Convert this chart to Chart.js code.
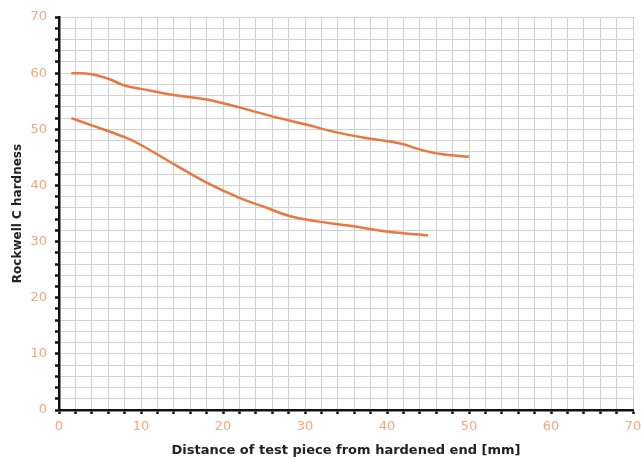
<!DOCTYPE html>
<html>
<head>
<meta charset="utf-8">
<script src="https://cdn.jsdelivr.net/npm/chart.js@4"></script>
<style>
html,body{margin:0;padding:0;background:#fff;}
#wrap{width:641px;height:459px;}
</style>
</head>
<body>
<div id="wrap"><canvas id="c" width="641" height="459"></canvas></div>
<script>
const upperX = [1.5, 4, 6, 8, 10, 14, 18, 22, 26, 30, 34, 38, 41.5, 44.5, 47, 50];
const upperY = [60, 59.8, 59, 57.8, 57.2, 56.1, 55.3, 53.9, 52.3, 50.9, 49.4, 48.3, 47.5, 46.2, 45.5, 45.1];
const lowerX = [1.5, 4, 8, 10, 14, 18, 22, 25, 28, 31.5, 35.5, 39.5, 42, 45];
const lowerY = [52, 50.7, 48.6, 47.2, 43.8, 40.5, 37.8, 36.2, 34.6, 33.6, 32.8, 31.9, 31.5, 31.1];
const xTicks = [0, 10, 20, 30, 40, 50, 60, 70];
const yTicks = [0, 10, 20, 30, 40, 50, 60, 70];
const xTitle = 'Distance of test piece from hardened end [mm]';
const yTitle = 'Rockwell C hardness';

const toPts = (xs, ys) => xs.map((x, i) => ({x: x, y: ys[i]}));
const lineColor = '#e9773f';
const tickColor = '#f3a77c';

new Chart(document.getElementById('c'), {
  type: 'scatter',
  data: {
    datasets: [
      {data: toPts(upperX, upperY), showLine: true, borderColor: lineColor, borderWidth: 2.5, pointRadius: 0, tension: 0.4, fill: false},
      {data: toPts(lowerX, lowerY), showLine: true, borderColor: lineColor, borderWidth: 2.5, pointRadius: 0, tension: 0.4, fill: false}
    ]
  },
  options: {
    responsive: false,
    animation: false,
    layout: {padding: {left: 0, top: 17, right: 8, bottom: 0}},
    plugins: {legend: {display: false}, tooltip: {enabled: false}},
    scales: {
      x: {
        type: 'linear', min: 0, max: 70,
        afterFit: s => { s.height = 49; s.paddingRight = 0; s.paddingLeft = 0; },
        border: {color: '#111', width: 2.5},
        grid: {color: '#d0d0d0', lineWidth: 1, tickColor: '#111', tickLength: 4, tickWidth: 2.5},
        ticks: {
          stepSize: 2, autoSkip: false, maxRotation: 0, padding: 5,
          color: tickColor, font: {family: 'DejaVu Sans', size: 13},
          callback: v => xTicks.includes(v) ? String(v) : ''
        },
        title: {display: true, text: xTitle, color: '#222', font: {family: 'DejaVu Sans', size: 13, weight: 'bold'}, padding: {top: 0, bottom: 1}}
      },
      y: {
        type: 'linear', min: 0, max: 70,
        afterFit: s => { s.width = 59; s.paddingTop = 0; s.paddingBottom = 0; },
        border: {color: '#111', width: 2.5},
        grid: {color: '#d0d0d0', lineWidth: 1, tickColor: '#111', tickLength: 4, tickWidth: 2.5},
        ticks: {
          stepSize: 2, autoSkip: false, padding: 8,
          color: tickColor, font: {family: 'DejaVu Sans', size: 13},
          callback: v => yTicks.includes(v) ? String(v) : ''
        },
        title: {display: true, text: yTitle, color: '#222', font: {family: 'DejaVu Sans', size: 12, weight: 'bold'}, padding: {top: 11, bottom: 0}}
      }
    }
  }
});
</script>
</body>
</html>
